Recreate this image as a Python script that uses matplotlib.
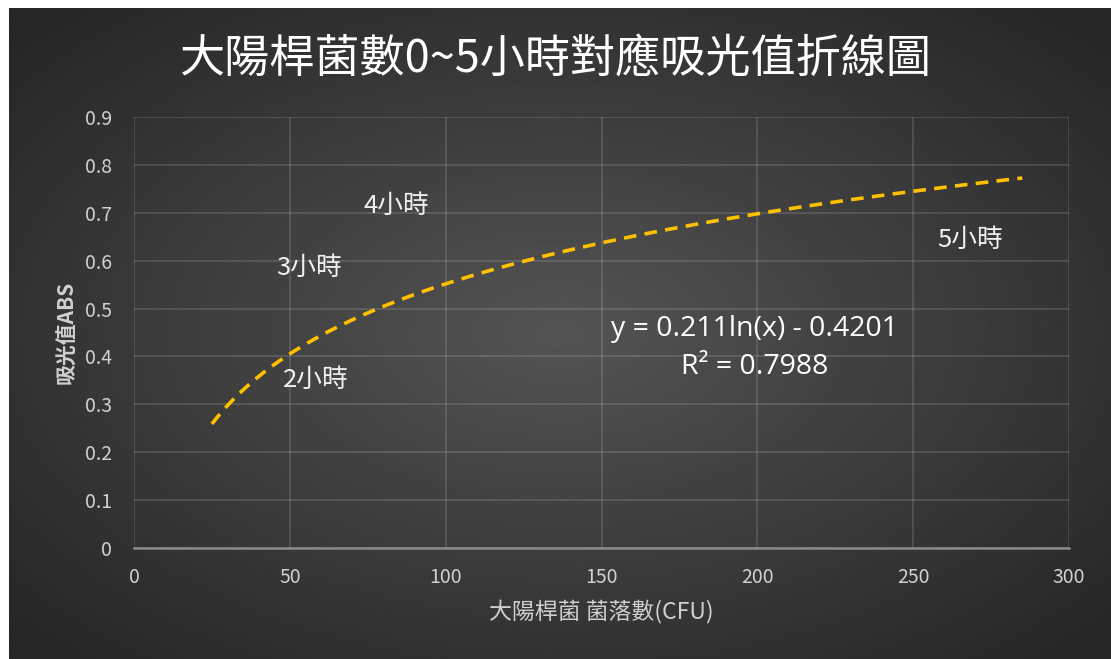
import numpy as np
import matplotlib.pyplot as plt

plt.rcParams['font.family'] = ['Noto Sans CJK TC', 'DejaVu Sans']

# 各時間點 (菌落數, 吸光值)
hours = ['2小時', '3小時', '4小時', '5小時']
cfu = [46, 44, 72, 256]
absorb = [0.351, 0.585, 0.714, 0.643]

# 對數趨勢線 y = a ln(x) + b
a, b = 0.211, -0.4201
r2 = 0.7988
fit_start, fit_end = 25, 285

fig = plt.figure(figsize=(11.11, 6.59), dpi=100)

# 放射狀漸層背景
bg = fig.add_axes([9 / 1111, 0, 1 - 9 / 1111, 1 - 8 / 659])
gx, gy = np.meshgrid(np.linspace(-1, 1, 400), np.linspace(-1, 1, 240))
dist = np.clip(np.sqrt(gx ** 2 + gy ** 2) / 1.35, 0, 1)
bg.imshow(0.33 - 0.18 * dist, cmap='gray', vmin=0, vmax=1, aspect='auto',
          extent=[0, 1, 0, 1], interpolation='bilinear')
bg.axis('off')

ax = fig.add_axes([134 / 1111, (659 - 548) / 659, (1069 - 134) / 1111, (548 - 117) / 659])
ax.set_facecolor('none')
ax.set_xlim(0, 300)
ax.set_ylim(0, 0.9)
ax.set_xticks(np.arange(0, 301, 50))
ax.set_yticks(np.arange(0, 0.91, 0.1))
ax.set_yticklabels(['0'] + ['%.1f' % v for v in np.arange(0.1, 0.91, 0.1)])
ax.grid(True, color='white', alpha=0.15, linewidth=1.2)
ax.tick_params(length=0, colors='#d0d0d0', labelsize=14)
ax.tick_params(axis='y', pad=16)
ax.tick_params(axis='x', pad=14)
for s in ['top', 'right', 'left']:
    ax.spines[s].set_visible(False)
ax.spines['bottom'].set_color('#8a8a8a')
ax.spines['bottom'].set_linewidth(1.8)

xs = np.linspace(fit_start, fit_end, 300)
ax.plot(xs, a * np.log(xs) + b, color='#FFC000', linewidth=2.6,
        linestyle=(0, (3.5, 2.3)))

for lab, x, y in zip(hours, cfu, absorb):
    ax.annotate(lab, (x, y), xytext=(4, 0), textcoords='offset points',
                ha='left', va='center', color='#f0f0f0', fontsize=18.5)

# 趨勢線方程式
ax.text(199, 0.457, 'y = %gln(x) - %g' % (a, -b),
        ha='center', va='center', color='white', fontsize=20.5,
        family=['Open Sans', 'DejaVu Sans'])
ax.text(199, 0.378, 'R² = %g' % r2,
        ha='center', va='center', color='white', fontsize=20.5,
        family=['Open Sans', 'DejaVu Sans'])

ax.set_xlabel('大陽桿菌 菌落數(CFU)', color='#d0d0d0', fontsize=16.5, labelpad=8)
ax.set_ylabel('吸光值ABS', color='#d0d0d0', fontsize=15, fontweight='bold', labelpad=6)

fig.text(0.5, 1 - 59 / 659, '大陽桿菌數0~5小時對應吸光值折線圖', ha='center', va='center',
         color='white', fontsize=32.5)

fig.savefig('out.png', dpi=100, facecolor='white')
